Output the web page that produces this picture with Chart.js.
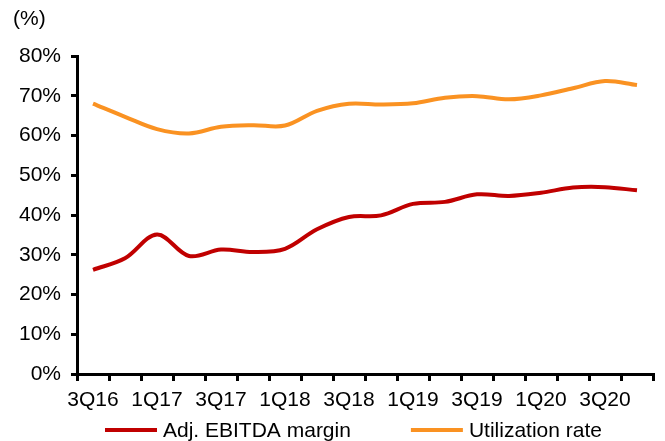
<!DOCTYPE html>
<html>
<head>
<meta charset="utf-8">
<script src="https://cdn.jsdelivr.net/npm/chart.js@4/dist/chart.umd.min.js"></script>
<style>
  html, body { margin: 0; padding: 0; background: #fff; }
  #wrap { width: 665px; height: 441px; }
</style>
</head>
<body>
<div id="wrap"><canvas id="marginChart" width="665" height="441"></canvas></div>
<script>
const quarters = ['3Q16', '4Q16', '1Q17', '2Q17', '3Q17', '4Q17', '1Q18', '2Q18', '3Q18',
                  '4Q18', '1Q19', '2Q19', '3Q19', '4Q19', '1Q20', '2Q20', '3Q20', '4Q20'];
const ebitdaMargin = [26.2, 29.1, 35.1, 29.7, 31.3, 30.7, 31.5, 36.4, 39.5,
                      39.9, 42.8, 43.3, 45.2, 44.8, 45.6, 46.9, 47.0, 46.2];
const utilization = [68.0, 64.7, 61.6, 60.5, 62.2, 62.6, 62.5, 66.2, 68.0,
                     67.8, 68.1, 69.5, 69.9, 69.1, 70.1, 71.9, 73.7, 72.7];
const yTicks = [0, 10, 20, 30, 40, 50, 60, 70, 80];

const FONT = "'Liberation Sans', Arial, sans-serif";
const RED = '#C00000';
const ORANGE = '#FA9222';

// unit label above the y axis and the line legend under the x axis
const extras = {
    id: 'extras',
    afterDraw(chart) {
        const ctx = chart.ctx;
        ctx.save();
        ctx.font = '21px ' + FONT;
        ctx.fillStyle = '#000';
        ctx.textBaseline = 'middle';
        ctx.fillText('(%)', 13, 19);

        let x = 105;
        const y = 430;
        chart.data.datasets.forEach(ds => {
            ctx.strokeStyle = ds.borderColor;
            ctx.lineWidth = 4;
            ctx.beginPath();
            ctx.moveTo(x, y);
            ctx.lineTo(x + 52, y);
            ctx.stroke();
            ctx.fillStyle = '#000';
            ctx.fillText(ds.label, x + 58, y + 1);
            x += 58 + ctx.measureText(ds.label).width + 60;
        });
        ctx.restore();
    }
};

new Chart(document.getElementById('marginChart'), {
    type: 'line',
    data: {
        labels: quarters,
        datasets: [
            {
                label: 'Adj. EBITDA margin',
                data: ebitdaMargin,
                borderColor: RED,
                borderWidth: 4,
                pointRadius: 0,
                tension: 0.35
            },
            {
                label: 'Utilization rate',
                data: utilization,
                borderColor: ORANGE,
                borderWidth: 4,
                pointRadius: 0,
                tension: 0.35
            }
        ]
    },
    options: {
        responsive: false,
        animation: false,
        layout: { padding: { top: 56, left: 12, right: 12, bottom: 0 } },
        plugins: {
            legend: { display: false },
            tooltip: { enabled: false }
        },
        scales: {
            x: {
                offset: true,
                afterFit: scale => { scale.height = 67; },
                border: { color: '#000', width: 3 },
                grid: {
                    offset: true,
                    drawOnChartArea: false,
                    drawTicks: true,
                    tickLength: 7,
                    color: '#000',
                    lineWidth: 3
                },
                ticks: {
                    autoSkip: false,
                    maxRotation: 0,
                    color: '#000',
                    padding: 7,
                    font: { family: FONT, size: 21 },
                    callback: (v, i) => (i % 2 === 0 ? quarters[i] : '')
                }
            },
            y: {
                min: yTicks[0],
                max: yTicks[yTicks.length - 1],
                afterFit: scale => { scale.width = 65; },
                afterBuildTicks: scale => { scale.ticks = yTicks.map(v => ({ value: v })); },
                border: { color: '#000', width: 3 },
                grid: {
                    drawOnChartArea: false,
                    drawTicks: true,
                    tickLength: 6,
                    color: '#000',
                    lineWidth: 3
                },
                ticks: {
                    color: '#000',
                    padding: 10,
                    font: { family: FONT, size: 21 },
                    callback: v => v + '%'
                }
            }
        }
    },
    plugins: [extras]
});
</script>
</body>
</html>
